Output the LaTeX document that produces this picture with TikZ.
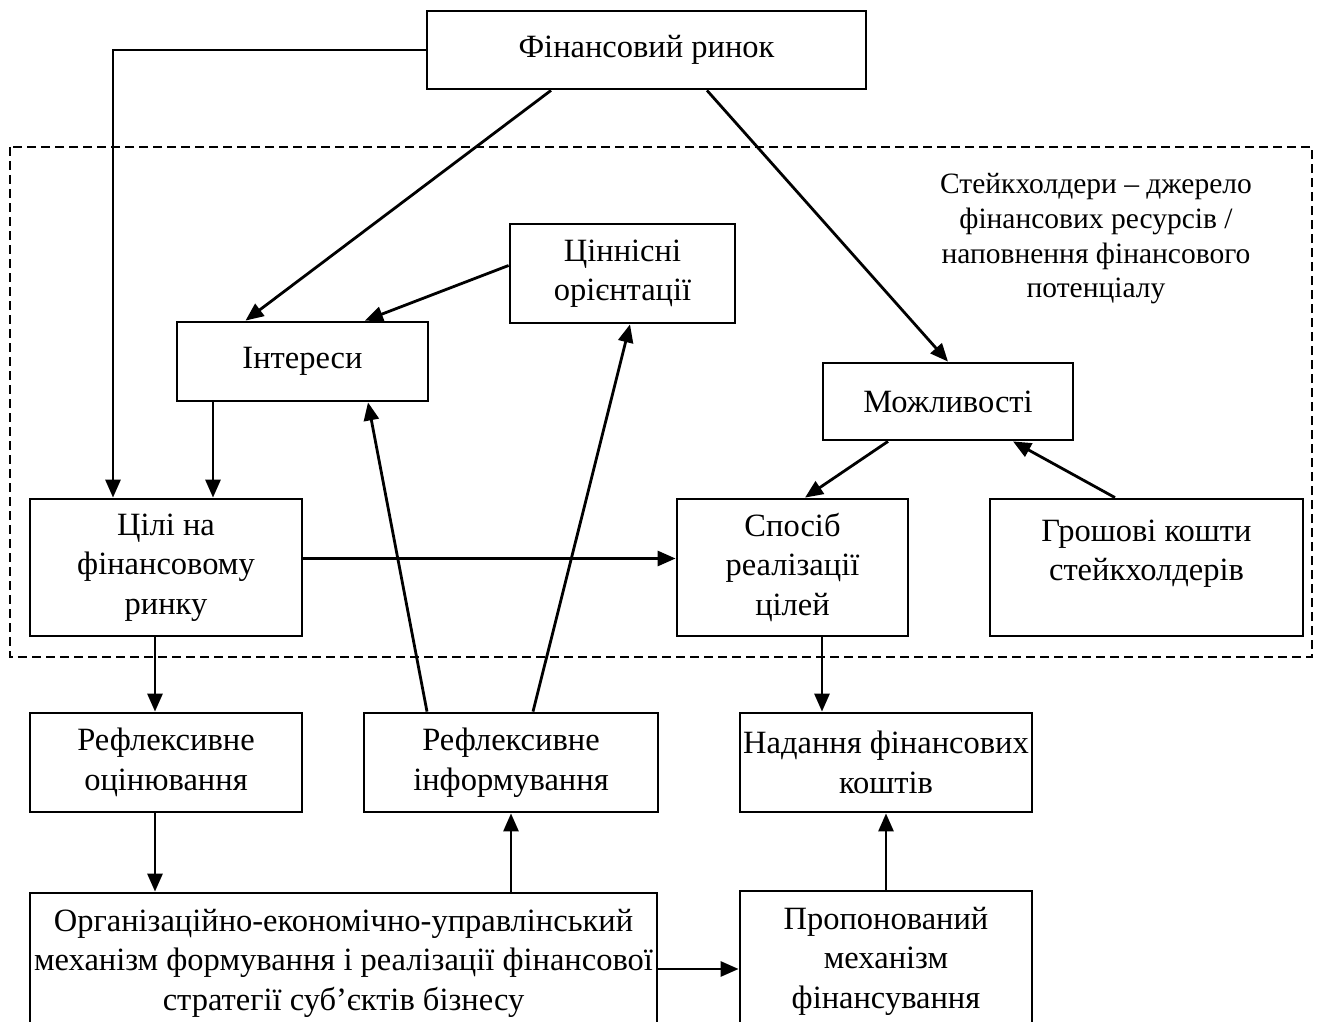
\documentclass[tikz,border=0pt]{standalone}
\usepackage{fontspec}
\setmainfont{Liberation Serif}
\usetikzlibrary{arrows.meta}
\begin{document}
\begin{tikzpicture}[x=1pt,y=-1pt,
  box/.style={draw, line width=2.8pt, align=center, inner sep=0pt,
    font=\fontsize{32.5}{39.5}\selectfont},
  lbl/.style={align=center, inner sep=0pt, font=\fontsize{29.5}{34.7}\selectfont},
  arr/.style={line width=2.8pt, -{Triangle[length=18pt,width=15pt]}},
  dashbox/.style={line width=2pt, dash pattern=on 9pt off 5pt}]
\useasboundingbox (0,0) rectangle (1334,1022);
\fill[white] (0,0) rectangle (1334,1022);
\draw[dashbox] (10,147) rectangle (1312,657);
\node[lbl] (stake) at (1096,239) {Стейкхолдери – джерело\\фінансових ресурсів /\\наповнення фінансового\\потенціалу};
\node[box, minimum width=439pt, minimum height=78pt] (finrynok) at (646.5,50) {\raisebox{5pt}{Фінансовий ринок}};
\node[box, minimum width=225pt, minimum height=99pt] (tsinnisni) at (622.5,273.5) {Ціннісні\\орієнтації};
\node[box, minimum width=251pt, minimum height=79pt] (interesy) at (302.5,361.5) {Інтереси};
\node[box, minimum width=250pt, minimum height=77pt] (mozhl) at (948,401.5) {Можливості};
\node[box, minimum width=272pt, minimum height=137pt] (tsili) at (166,567.5) {Цілі на\\фінансовому\\ринку};
\node[box, minimum width=231pt, minimum height=137pt] (sposib) at (792.5,567.5) {Спосіб\\реалізації\\цілей};
\node[box, minimum width=313pt, minimum height=137pt] (groshi) at (1146.5,567.5) {Грошові кошти\\стейкхолдерів\\[-17pt]\strut};
\node[box, minimum width=272pt, minimum height=99pt] (refocin) at (166,762.5) {Рефлексивне\\оцінювання};
\node[box, minimum width=294pt, minimum height=99pt] (refinf) at (511,762.5) {Рефлексивне\\інформування};
\node[box, minimum width=292pt, minimum height=99pt] (nadan) at (886,762.5) {Надання фінансових\\коштів};
\node[box, minimum width=627pt, minimum height=140pt] (org) at (343.5,963) {Організаційно-економічно-управлінський\\механізм формування і реалізації фінансової\\стратегії суб’єктів бізнесу};
\node[box, minimum width=292pt, minimum height=140pt] (propon) at (886,961) {Пропонований\\механізм\\фінансування};

\draw[arr] (finrynok.west) -| ([xshift=-53pt]tsili.north);
\draw[arr] ([xshift=-95.5pt]finrynok.south) -- ([xshift=-57pt]interesy.north);
\draw[arr] ([xshift=60.5pt]finrynok.south) -- (mozhl.north);
\draw[arr] ([yshift=8pt]tsinnisni.west) -- ([xshift=62.5pt]interesy.north);
\draw[arr] ([xshift=-89.5pt]interesy.south) -- ([xshift=-89.5pt]interesy.south |- tsili.north);
\draw[arr] ([xshift=-84pt]refinf.north) -- ([xshift=65.5pt]interesy.south);
\draw[arr] ([xshift=22pt]refinf.north) -- ([xshift=7.5pt]tsinnisni.south);
\draw[arr] ([xshift=-60pt]mozhl.south) -- ([xshift=12.5pt]sposib.north);
\draw[arr] ([xshift=-31.5pt]groshi.north) -- ([xshift=65pt]mozhl.south);
\draw[arr] ([yshift=9pt]tsili.east) -- ([yshift=9pt]sposib.west);
\draw[arr] ([xshift=-11pt]tsili.south) -- ([xshift=-11pt]refocin.north);
\draw[arr] ([xshift=29.5pt]sposib.south) -- ([xshift=29.5pt]sposib.south |- nadan.north);
\draw[arr] ([xshift=-11pt]refocin.south) -- ([xshift=-11pt]refocin.south |- org.north);
\draw[arr] (org.north -| refinf.south) -- (refinf.south);
\draw[arr] ([yshift=-6pt]org.east) -- ([yshift=-6pt]org.east -| propon.west);
\draw[arr] (propon.north) -- (nadan.south);
\end{tikzpicture}
\end{document}
